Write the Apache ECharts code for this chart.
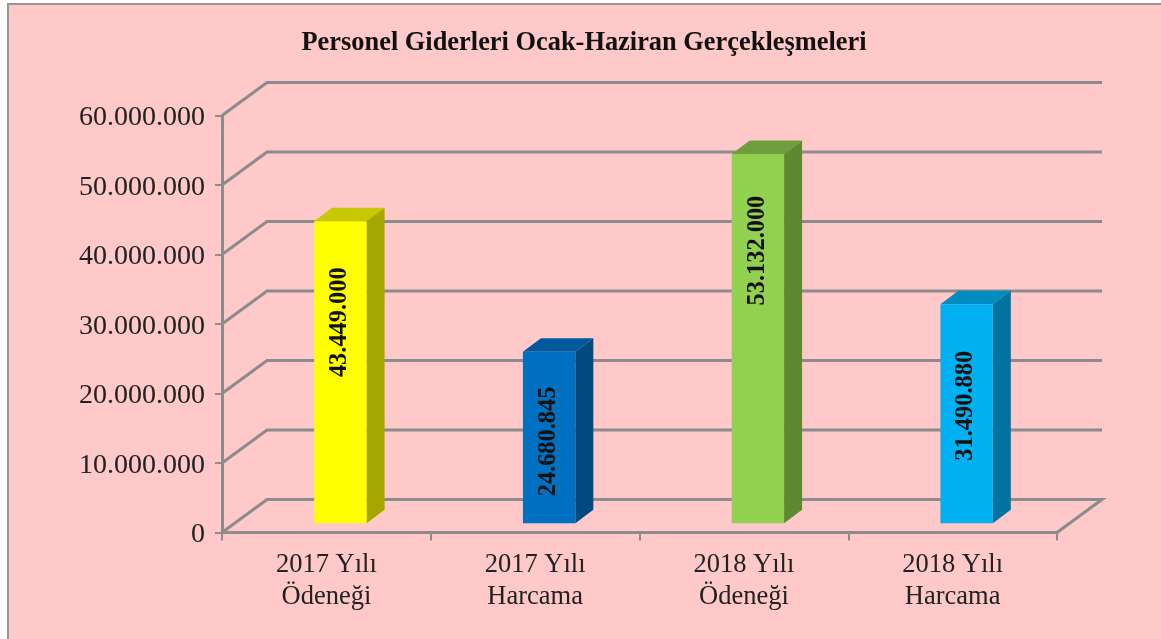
<!DOCTYPE html>
<html>
<head>
<meta charset="utf-8">
<style>html,body{margin:0;padding:0;background:#fff}#c{width:1161px;height:639px}</style>
<script src="https://cdn.jsdelivr.net/npm/echarts@6/dist/echarts.min.js"></script>
</head>
<body>
<div id="c"></div>
<script>
const categories = ['2017 Yılı\nÖdeneği', '2017 Yılı\nHarcama', '2018 Yılı\nÖdeneği', '2018 Yılı\nHarcama'];
const values = [43449000, 24680845, 53132000, 31490880];
const valueLabels = ['43.449.000', '24.680.845', '53.132.000', '31.490.880'];
const yTicks = [0, 10000000, 20000000, 30000000, 40000000, 50000000, 60000000];
const titleText = 'Personel Giderleri Ocak-Haziran Gerçekleşmeleri';

const FONT = '"Liberation Serif","Times New Roman",serif';
const GREY = '#8C8C8C';
const DEPTH = [45, -33];
const BAR_SHIFT = [14, -9.3];
const BAR_W = 52.4;
const BAR_D = [18, -13.5];
const faceColors = ['#FFFF00', '#0070C0', '#92D050', '#00B0F0'];
const topColors = ['#C8C800', '#00599A', '#6F9E3E', '#008CBF'];
const sideColors = ['#A6A600', '#004A80', '#5F8833', '#00739F'];
const labelShift = [-50, 4, -88, -8];

function fmt(v) { return String(v).replace(/\B(?=(\d{3})+$)/g, '.'); }

const chart = echarts.init(document.getElementById('c'), null, { renderer: 'canvas' });
chart.setOption({
  animation: false,
  backgroundColor: '#FFFFFF',
  graphic: [{
    type: 'rect', z: -10, silent: true,
    shape: { x: 8, y: 4, width: 1170, height: 650 },
    style: { fill: '#FFC9C9', stroke: '#969696', lineWidth: 2 }
  }],
  title: {
    text: titleText, left: 579, top: 25, textAlign: 'center',
    textStyle: { fontFamily: FONT, fontWeight: 'bold', fontSize: 26.4, color: '#111' }
  },
  grid: { left: 222, right: 104, top: 115.5, bottom: 106.5 },
  xAxis: {
    type: 'category', data: categories, boundaryGap: true,
    axisLine: { lineStyle: { color: GREY, width: 3 } },
    axisTick: { show: true, length: 8, alignWithLabel: false, lineStyle: { color: GREY, width: 2 } },
    axisLabel: { fontFamily: FONT, fontSize: 26.5, color: '#222', lineHeight: 32, margin: 17 }
  },
  yAxis: {
    type: 'value', min: 0, max: 60000000, interval: 10000000,
    axisLine: { show: true, lineStyle: { color: GREY, width: 3 } },
    axisTick: { show: true, length: 7, lineStyle: { color: GREY, width: 2 } },
    splitLine: { show: false },
    axisLabel: { fontFamily: FONT, fontSize: 28, color: '#222', margin: 17, verticalAlign: 'top', lineHeight: 5, formatter: fmt }
  },
  series: [
    {
      type: 'custom', coordinateSystem: 'cartesian2d', clip: false, z: 1,
      data: yTicks.map(v => [0, v]),
      encode: { x: 0, y: 1 },
      renderItem(params, api) {
        const v = api.value(1);
        const y = api.coord([0, v])[1];
        const r = params.coordSys;
        const x0 = r.x, x1 = r.x + r.width;
        const pts = [[x0, y], [x0 + DEPTH[0], y + DEPTH[1]], [x1 + DEPTH[0], y + DEPTH[1]]];
        if (v === 0) pts.push([x1, y]);
        return { type: 'polyline', shape: { points: pts }, style: { stroke: GREY, lineWidth: 3, fill: null, lineJoin: 'miter' } };
      }
    },
    {
      type: 'custom', coordinateSystem: 'cartesian2d', clip: false, z: 3,
      data: values.map((v, i) => [i, v]),
      encode: { x: 0, y: 1 },
      renderItem(params, api) {
        const i = api.value(0);
        const top = api.coord([i, api.value(1)]);
        const base = api.coord([i, 0]);
        const l = top[0] - BAR_W / 2 + BAR_SHIFT[0], r = l + BAR_W;
        const t = top[1] + BAR_SHIFT[1], b = base[1] + BAR_SHIFT[1];
        const dx = BAR_D[0], dy = BAR_D[1];
        return {
          type: 'group',
          children: [
            { type: 'polygon', shape: { points: [[l, t], [r, t], [r + dx, t + dy], [l + dx, t + dy]] }, style: { fill: topColors[i] } },
            { type: 'polygon', shape: { points: [[r, t], [r + dx, t + dy], [r + dx, b + dy], [r, b]] }, style: { fill: sideColors[i] } },
            { type: 'rect', shape: { x: l, y: t, width: BAR_W, height: b - t }, style: { fill: faceColors[i] } },
            {
              type: 'text', x: (l + r) / 2 - 0.5, y: (t + b) / 2 + labelShift[i], rotation: Math.PI / 2,
              style: { text: valueLabels[i], align: 'center', verticalAlign: 'middle', fontFamily: FONT, fontWeight: 'bold', fontSize: 24.4, fill: '#111' }
            }
          ]
        };
      }
    }
  ]
});
</script>
</body>
</html>
